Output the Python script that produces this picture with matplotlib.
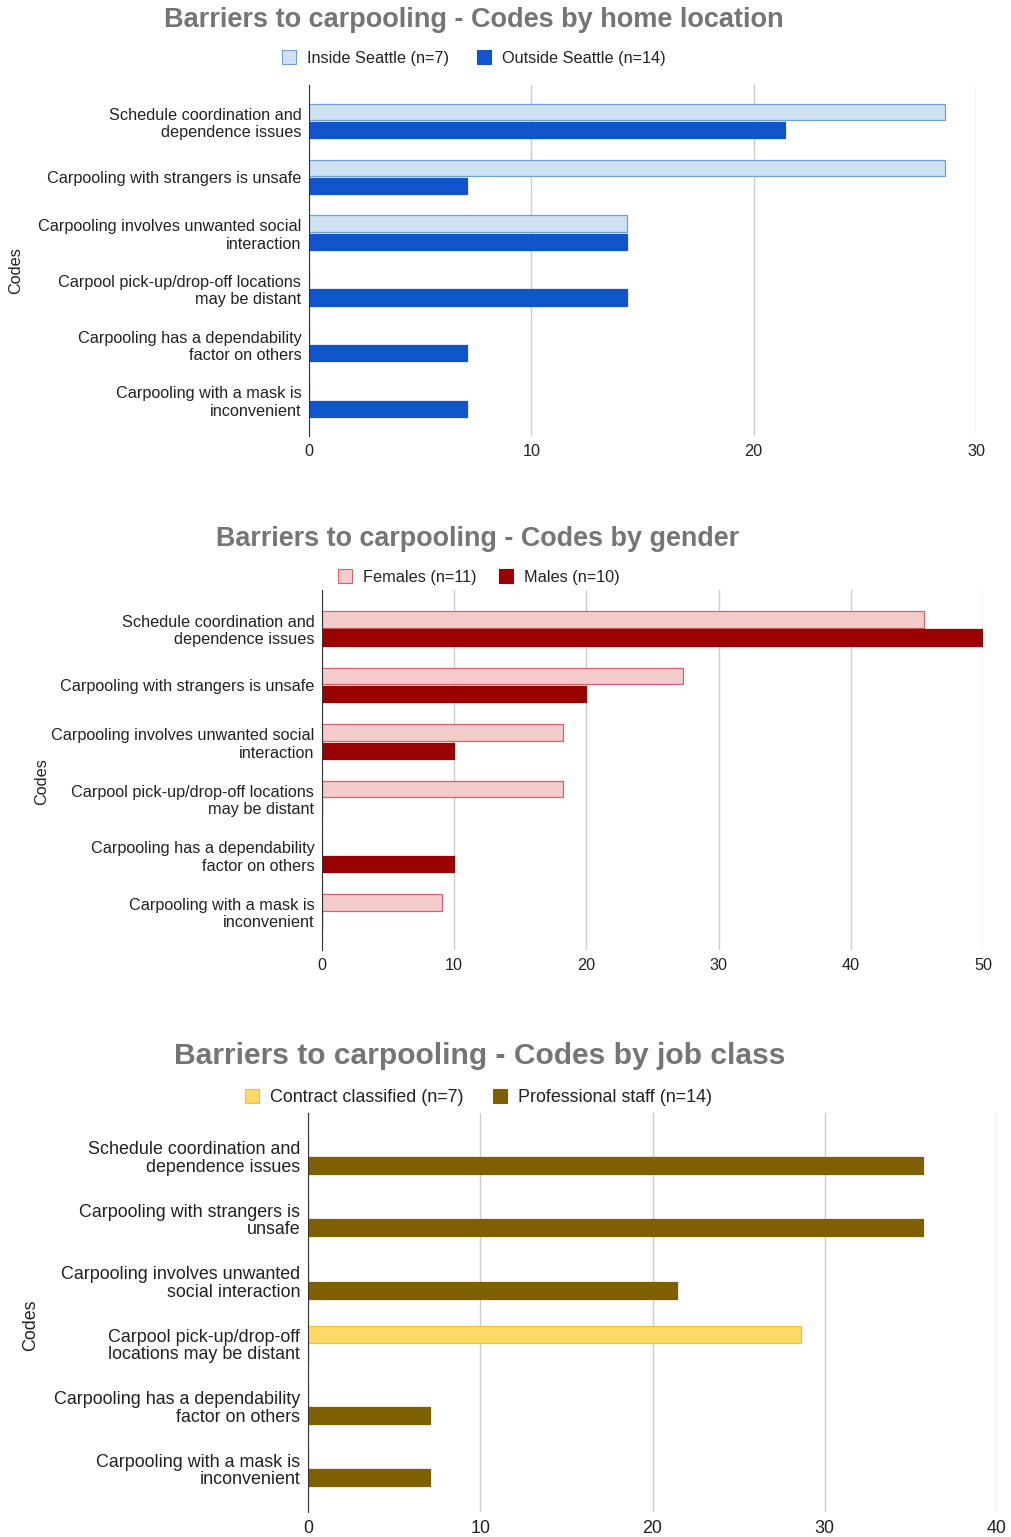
import matplotlib
matplotlib.use("Agg")
import matplotlib.pyplot as plt
import numpy as np

plt.rcParams['font.family'] = ['Liberation Sans', 'DejaVu Sans']

# ---- data ----
codes_a = ["Schedule coordination and\ndependence issues",
           "Carpooling with strangers is unsafe",
           "Carpooling involves unwanted social\ninteraction",
           "Carpool pick-up/drop-off locations\nmay be distant",
           "Carpooling has a dependability\nfactor on others",
           "Carpooling with a mask is\ninconvenient"]
codes_b = ["Schedule coordination and\ndependence issues",
           "Carpooling with strangers is\nunsafe",
           "Carpooling involves unwanted\nsocial interaction",
           "Carpool pick-up/drop-off\nlocations may be distant",
           "Carpooling has a dependability\nfactor on others",
           "Carpooling with a mask is\ninconvenient"]

inside_seattle = [28.6, 28.6, 14.3, 0, 0, 0]
outside_seattle = [21.4, 7.1, 14.3, 14.3, 7.1, 7.1]

females = [45.5, 27.3, 18.2, 18.2, 0, 9.1]
males = [50, 20, 10, 0, 10, 0]

contract = [0, 0, 0, 28.6, 0, 0]
professional = [35.7, 35.7, 21.4, 0, 7.1, 7.1]

W, H = 1011, 1537
fig = plt.figure(figsize=(W / 100, H / 100), dpi=100)


def px_axes(x0, y0, x1, y1):
    return fig.add_axes([x0 / W, 1 - y1 / H, (x1 - x0) / W, (y1 - y0) / H])


def draw(ax, labels, s1, s2, names, colors, xmax, step, fs, title, title_xy,
         title_fs, leg_xy, ylab_xy, margin, bh, off, lsp=1.2):
    y = np.arange(len(labels))
    ax.barh(y - off, s1, height=bh, color=colors[0][0], edgecolor=colors[0][1],
            linewidth=0.9, zorder=3)
    ax.barh(y + off, s2, height=bh, color=colors[1][0], edgecolor=colors[1][1],
            linewidth=0.9, zorder=3)
    ax.set_xlim(0, xmax)
    ax.set_ylim(len(labels) - 1 + margin, -margin)
    ax.set_yticks(y)
    ax.set_yticklabels(labels, fontsize=fs, color='#222222', linespacing=lsp)
    ax.set_xticks(np.arange(0, xmax + 1, step))
    ax.tick_params(axis='x', labelsize=fs, colors='#222222', length=0, pad=6)
    ax.tick_params(axis='y', length=0, pad=5.5)
    ax.grid(axis='x', color='#cccccc', linewidth=1, zorder=0)
    for sp in ['top', 'right', 'bottom']:
        ax.spines[sp].set_visible(False)
    ax.spines['left'].set_color('#333333')
    ax.spines['left'].set_zorder(4)
    ax.set_axisbelow(True)
    fig.text(title_xy[0] / W, 1 - title_xy[1] / H, title, ha='center', va='center',
             fontsize=title_fs, fontweight='bold', color='#757575')
    fig.text(ylab_xy[0] / W, 1 - ylab_xy[1] / H, "Codes", rotation=90,
             ha='center', va='center', fontsize=fs, color='#222222')
    # legend
    for (lx, ly), name, (fc, ec) in zip(leg_xy, names, colors):
        fig.patches.append(plt.Rectangle(((lx - 7) / W, 1 - (ly + 7) / H), 14 / W, 14 / H,
                                         transform=fig.transFigure, facecolor=fc,
                                         edgecolor=ec, linewidth=0.8))
        fig.text((lx + 18) / W, 1 - (ly + 1.5) / H, name, ha='left', va='center',
                 fontsize=fs, color='#222222')


ax1 = px_axes(309, 85, 976, 436)
draw(ax1, codes_a, inside_seattle, outside_seattle,
     ["Inside Seattle (n=7)", "Outside Seattle (n=14)"],
     [("#cfe2f3", "#6f9fd8"), ("#1155cc", "#1155cc")],
     30, 10, 11.7, "Barriers to carpooling - Codes by home location", (474, 20), 19.5,
     [(289, 57), (484, 57)], (16, 271), 0.65, 0.29, 0.165)

ax2 = px_axes(322, 590, 983, 950)
draw(ax2, codes_a, females, males,
     ["Females (n=11)", "Males (n=10)"],
     [("#f4cccc", "#d9626a"), ("#990000", "#990000")],
     50, 10, 11.7, "Barriers to carpooling - Codes by gender", (478, 539), 19.4,
     [(345, 576), (506, 576)], (42, 782), 0.68, 0.29, 0.16)

ax3 = px_axes(308, 1113, 997, 1512)
draw(ax3, codes_b, contract, professional,
     ["Contract classified (n=7)", "Professional staff (n=14)"],
     [("#ffd966", "#f1c232"), ("#7f6000", "#7f6000")],
     40, 10, 12.9, "Barriers to carpooling - Codes by job class", (480, 1056), 21.6,
     [(252, 1096), (500, 1096)], (31, 1325), 0.69, 0.27, 0.145, lsp=1.05)

fig.savefig("out.png", dpi=100, facecolor='white')
